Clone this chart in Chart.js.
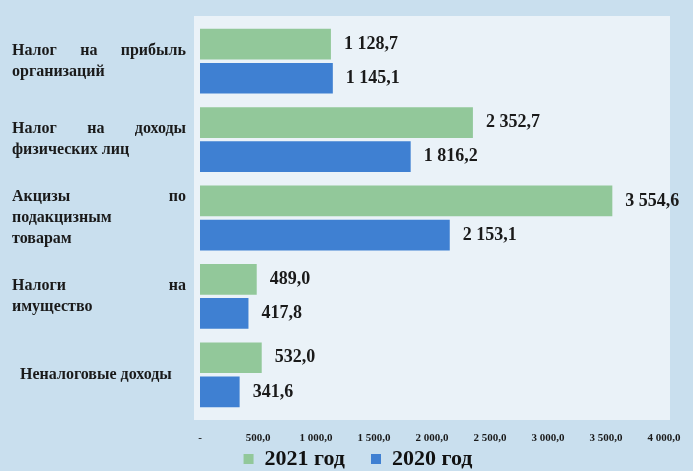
<!DOCTYPE html>
<html>
<head>
<meta charset="utf-8">
<script src="https://cdn.jsdelivr.net/npm/chart.js@4/dist/chart.umd.min.js"></script>
<style>
  html, body { margin: 0; padding: 0; background: #c9dfee; }
  #wrap { width: 693px; height: 471px; }
</style>
</head>
<body>
<div id="wrap"><canvas id="c" width="693" height="471"></canvas></div>
<script>
// categories (each entry = lines of the label)
const categories = [
    ['Налог на прибыль', 'организаций'],
    ['Налог на доходы', 'физических лиц'],
    ['Акцизы по', 'подакцизным', 'товарам'],
    ['Налоги на', 'имущество'],
    ['Неналоговые доходы']
];
const values2021 = [1128.7, 2352.7, 3554.6, 489.0, 532.0];
const values2020 = [1145.1, 1816.2, 2153.1, 417.8, 341.6];
const seriesNames = ['2021 год', '2020 год'];
const xTicks = [0, 500, 1000, 1500, 2000, 2500, 3000, 3500, 4000];

const SERIF = '"Liberation Serif", "DejaVu Serif", serif';

function fmt(v) {
    if (v === 0) return '-';
    const parts = v.toFixed(1).split('.');
    return parts[0].replace(/\B(?=(\d{3})+(?!\d))/g, ' ') + ',' + parts[1];
}

// background: light blue page, paler plot area
const bgPlugin = {
    id: 'bg',
    beforeDraw: (chart) => {
        const { ctx, chartArea } = chart;
        ctx.save();
        ctx.fillStyle = '#c9dfee';
        ctx.fillRect(0, 0, chart.width, chart.height);
        ctx.fillStyle = '#eaf2f8';
        ctx.fillRect(chartArea.left - 6, chartArea.top - 6, chartArea.right - chartArea.left + 12, chartArea.bottom - chartArea.top + 12);
        ctx.restore();
    }
};

// category labels, justified like in the word document
const catLabels = {
    id: 'catLabels',
    afterDraw: (chart) => {
        const { ctx } = chart;
        const y = chart.scales.y;
        const left = 12, right = 186, lh = 21;
        ctx.save();
        ctx.font = 'bold 16px ' + SERIF;
        ctx.fillStyle = '#1a1a1a';
        ctx.textBaseline = 'middle';
        categories.forEach((lines, i) => {
            const cy = y.getPixelForValue(i);
            const top = cy - (lines.length - 1) * lh / 2;
            lines.forEach((line, j) => {
                const ly = top + j * lh;
                const words = line.split(' ');
                const justify = j < lines.length - 1 && words.length > 1;
                if (!justify) {
                    const x = lines.length === 1 ? left + 8 : left;
                    ctx.fillText(line, x, ly);
                    return;
                }
                const widths = words.map(w => ctx.measureText(w).width);
                const total = widths.reduce((a, b) => a + b, 0);
                const gap = (right - left - total) / (words.length - 1);
                let x = left;
                words.forEach((w, k) => {
                    ctx.fillText(w, x, ly);
                    x += widths[k] + gap;
                });
            });
        });
        ctx.restore();
    }
};

// value labels at bar ends
const valueLabels = {
    id: 'valueLabels',
    afterDatasetsDraw: (chart) => {
        const { ctx } = chart;
        ctx.save();
        ctx.font = 'bold 18px ' + SERIF;
        ctx.fillStyle = '#1a1a1a';
        ctx.textBaseline = 'middle';
        chart.data.datasets.forEach((ds, di) => {
            chart.getDatasetMeta(di).data.forEach((bar, i) => {
                ctx.fillText(fmt(ds.data[i]), bar.x + 13, bar.y);
            });
        });
        ctx.restore();
    }
};

new Chart(document.getElementById('c'), {
    type: 'bar',
    data: {
        labels: categories,
        datasets: [
            { label: seriesNames[0], data: values2021, backgroundColor: '#92c89a', categoryPercentage: 0.87, barPercentage: 0.9 },
            { label: seriesNames[1], data: values2020, backgroundColor: '#3f80d2', categoryPercentage: 0.87, barPercentage: 0.9 }
        ]
    },
    options: {
        indexAxis: 'y',
        responsive: false,
        animation: false,
        layout: { padding: { top: 22, right: 29, bottom: -9, left: 52 } },
        scales: {
            x: {
                min: 0,
                max: 4000,
                afterBuildTicks: (axis) => { axis.ticks = xTicks.map(v => ({ value: v })); },
                afterFit: (axis) => { axis.height = 30; },
                grid: { display: false },
                border: { display: false },
                ticks: {
                    padding: 10,
                    color: '#1a1a1a',
                    font: { family: SERIF, size: 11, weight: 'bold' },
                    callback: (v) => fmt(v),
                    maxRotation: 0
                }
            },
            y: {
                grid: { display: false },
                border: { display: false },
                ticks: { display: false },
                afterFit: (axis) => { axis.width = 148; }
            }
        },
        plugins: {
            tooltip: { enabled: false },
            legend: {
                position: 'bottom',
                labels: {
                    boxWidth: 10,
                    boxHeight: 10,
                    padding: 4,
                    color: '#111',
                    font: { family: SERIF, size: 22, weight: 'bold', lineHeight: 1 },
                    generateLabels: (chart) => Chart.defaults.plugins.legend.labels.generateLabels(chart)
                        .map((l, i) => Object.assign(l, { text: i === 0 ? l.text + '    ' : l.text }))
                }
            }
        }
    },
    plugins: [bgPlugin, catLabels, valueLabels]
});
</script>
</body>
</html>
